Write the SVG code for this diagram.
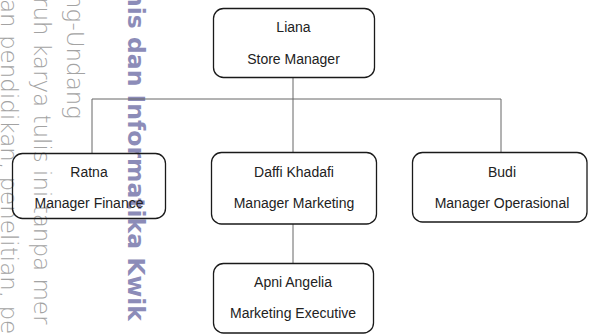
<svg xmlns="http://www.w3.org/2000/svg" width="589" height="335" viewBox="0 0 589 335">
  <style>
    .box { fill: none; stroke: #1a1a1a; stroke-width: 1.3; }
    .lbl { font-family: "Liberation Sans", Arial, sans-serif; font-size: 14px; fill: #222; text-anchor: middle; }
    .wm { font-family: "DejaVu Sans", sans-serif; font-size: 23px; font-weight: 200; fill: #a3a3a3; }
    .wmb { font-family: "DejaVu Sans", sans-serif; font-size: 23.5px; font-weight: bold; fill: #8c8cb8; }
    .conn { stroke: #666; stroke-width: 1; fill: none; }
  </style>
  <rect width="589" height="335" fill="#fff"/>
  <g id="watermark">
    <text class="wm" transform="translate(1,-1) rotate(90)">an pendidikan, penelitian, pe</text>
    <text class="wm" transform="translate(34,-3) rotate(90)">ruh karya tulis ini tanpa mer</text>
    <text class="wm" transform="translate(67,-6) rotate(90)">ng-Undang</text>
    <text class="wmb" transform="translate(128,-10) rotate(90)">nis dan Informatika Kwik</text>
  </g>
  <g id="connectors">
    <path class="conn" d="M293 77 V152"/>
    <path class="conn" d="M92 99 H501"/>
    <path class="conn" d="M92 99 V153"/>
    <path class="conn" d="M501 99 V152"/>
    <path class="conn" d="M293 224 V263"/>
  </g>
  <g id="liana">
    <rect class="box" x="213.5" y="8.5" width="161" height="69" rx="10"/>
    <text class="lbl" x="293.5" y="32">Liana</text>
    <text class="lbl" x="293.5" y="64">Store Manager</text>
  </g>
  <g id="ratna">
    <rect class="box" x="12.5" y="153.5" width="153" height="65" rx="10"/>
    <text class="lbl" x="89" y="177">Ratna</text>
    <text class="lbl" x="89" y="208">Manager Finance</text>
  </g>
  <g id="daffi">
    <rect class="box" x="211.5" y="152.5" width="165" height="71.5" rx="10"/>
    <text class="lbl" x="294" y="177">Daffi Khadafi</text>
    <text class="lbl" x="294" y="208">Manager Marketing</text>
  </g>
  <g id="budi">
    <rect class="box" x="412.5" y="152.5" width="174.5" height="69.5" rx="10"/>
    <text class="lbl" x="502" y="177">Budi</text>
    <text class="lbl" x="502" y="208">Manager Operasional</text>
  </g>
  <g id="apni">
    <rect class="box" x="213.5" y="263.5" width="160" height="69.5" rx="10"/>
    <text class="lbl" x="293" y="287">Apni Angelia</text>
    <text class="lbl" x="293" y="318">Marketing Executive</text>
  </g>
</svg>
